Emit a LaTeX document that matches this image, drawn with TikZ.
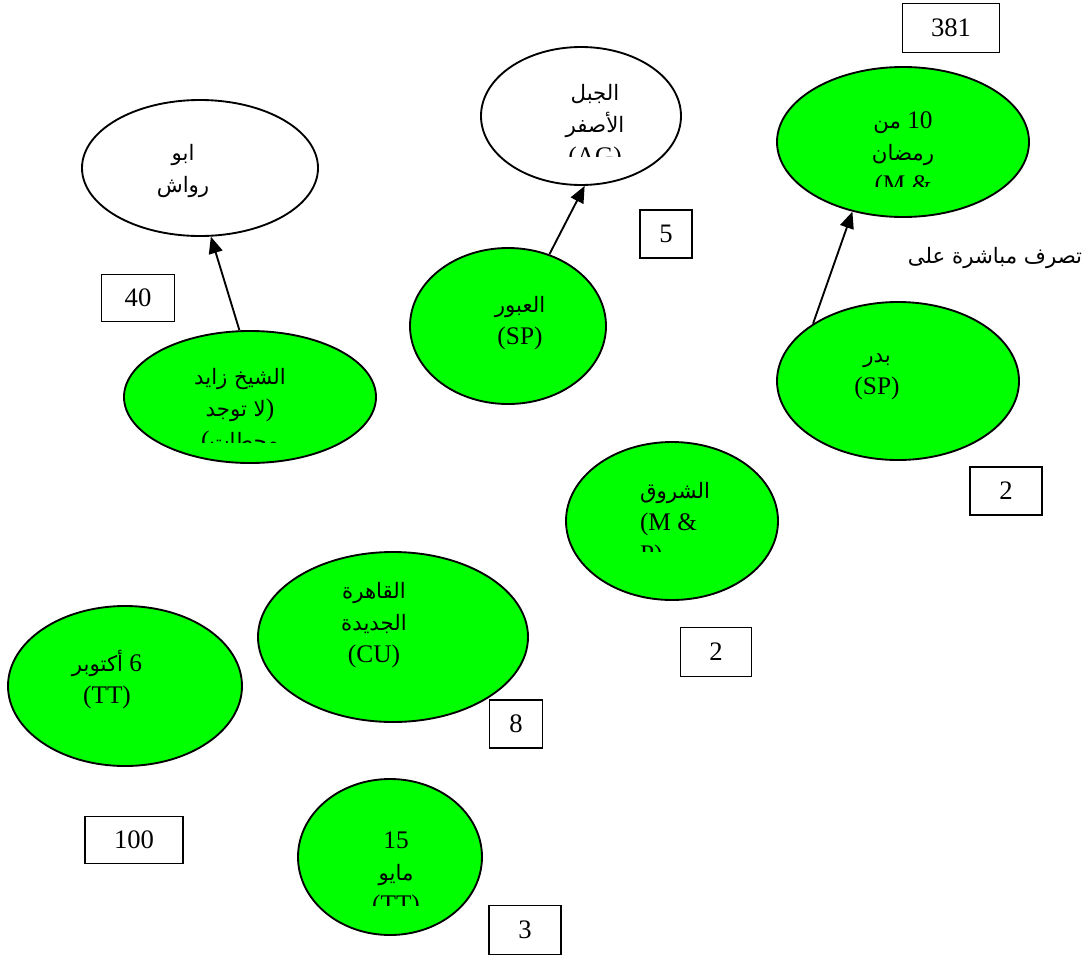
\documentclass[tikz,border=0pt]{standalone}
\usepackage{fontspec}
\setmainfont{Liberation Serif}
\newfontfamily\arabicfont[Script=Arabic,Scale=0.84]{DejaVu Sans}
\TeXXeTstate=1
\newcommand{\arb}[1]{{\arabicfont\beginR #1\endR}}
\usetikzlibrary{shapes.geometric,arrows.meta}
\definecolor{station}{RGB}{0,255,0}

\begin{document}
\begin{tikzpicture}[x=0.75pt,y=-0.75pt,
  oval/.style n args={2}{ellipse, draw, line width=1.4pt, inner sep=0pt,
    minimum width={1.5pt*#1}, minimum height={1.5pt*#2}},
  city/.style={oval={#1}, fill=station},
  plain/.style={oval={#1}, fill=white},
  lbl/.style={inner sep=0pt, align=center, font=\fontsize{19}{24}\selectfont},
  numbox/.style={draw, line width=0.8pt, fill=white, inner sep=0pt,
    font=\fontsize{20}{24}\selectfont},
  conn/.style={-{Triangle[length=12.5pt,width=10.5pt]}, line width=1.4pt}]

\useasboundingbox (0,0) rectangle (1088,960);

% ---- ovals ----
\node[plain={118}{68}]  (rawash)  at (200,168) {};
\node[plain={100}{69}]  (asfar)   at (581,116) {};
\node[city={126}{75}]   (ramadan) at (903,142) {};
\node[city={98}{78}]    (obour)   at (508,326) {};
\node[city={126}{66}]   (zayed)   at (250,397) {};
\node[city={121}{79}]   (badr)    at (898,381) {};
\node[city={106}{79}]   (shorouk) at (672,521) {};
\node[city={135}{85}]   (cairo)   at (393,637) {};
\node[city={117}{80}]   (october) at (125,686) {};
\node[city={92}{78}]    (may)     at (390,857) {};

% ---- labels (the text frames cut off the last line) ----
\node[lbl] (rawash-t) at (183,171) {\arb{ابو}\\\arb{رواش}};
\begin{scope}
  \clip (480,60) rectangle (680,156);
  \node[lbl] (asfar-t) at (595,127) {\arb{الجبل}\\\arb{الأصفر}\\(AG)};
\end{scope}
\begin{scope}
  \clip (780,80) rectangle (1020,186);
  \node[lbl] (ramadan-t) at (903,155) {\arb{من} 10\\\arb{رمضان}\\(M \&};
\end{scope}
\node[lbl] (obour-t) at (520,323) {\arb{العبور}\\(SP)};
\begin{scope}
  \clip (130,340) rectangle (370,442);
  \node[lbl] (zayed-t) at (240,411) {\arb{الشيخ زايد}\\\arb{لا توجد})\\(\arb{محطات}};
\end{scope}
\node[lbl] (badr-t) at (877,377) {\arb{بدر}\\(SP)};
\begin{scope}
  \clip (570,450) rectangle (775,551);
  \node[lbl, align=left] (shorouk-t) at (675,525) {\arb{الشروق}\\(M \&\\P)};
\end{scope}
\node[lbl] (cairo-t) at (374,625) {\arb{القاهرة}\\\arb{الجديدة}\\(CU)};
\node[lbl] (october-t) at (107,680) {\arb{أكتوبر} 6\\(TT)};
\begin{scope}
  \clip (300,790) rectangle (480,905);
  \node[lbl] (may-t) at (396,875) {15\\\arb{مايو}\\(TT)};
\end{scope}

\node[lbl] (note) at (995,258) {\arb{تصرف مباشرة على}};

% ---- number boxes ----
\node[numbox, minimum width=97*0.75pt, minimum height=49*0.75pt] (n381) at (951,28)  {381};
\node[numbox, minimum width=73*0.75pt, minimum height=47*0.75pt] (n40)  at (138,298) {40};
\node[numbox, minimum width=52*0.75pt, minimum height=48*0.75pt] (n5)   at (666,234) {5};
\node[numbox, minimum width=72*0.75pt, minimum height=48*0.75pt] (n2a)  at (1006,491) {2};
\node[numbox, minimum width=71*0.75pt, minimum height=49*0.75pt] (n2b)  at (716,652) {2};
\node[numbox, minimum width=53*0.75pt, minimum height=48*0.75pt] (n8)   at (516,724) {8};
\node[numbox, minimum width=98*0.75pt, minimum height=47*0.75pt] (n100) at (134,840) {100};
\node[numbox, minimum width=72*0.75pt, minimum height=49*0.75pt] (n3)   at (525,930) {3};

% ---- connectors ----
\draw[conn] (zayed.99)  -- (rawash.-81);
\draw[conn] (obour.60)  -- (asfar.-87);
\draw[conn] (badr.146)  -- (ramadan.-126);
\end{tikzpicture}
\end{document}
